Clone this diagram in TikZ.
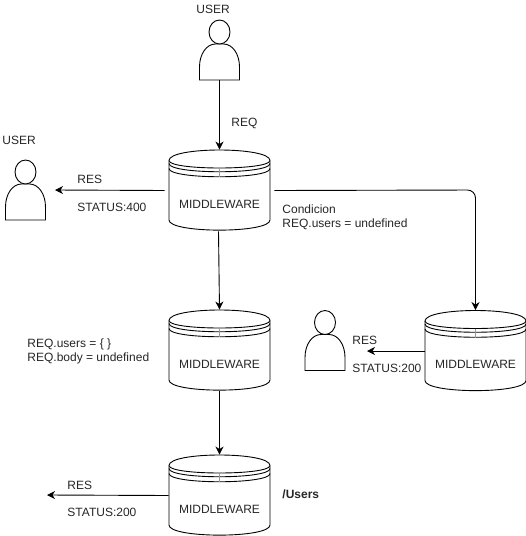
\documentclass[tikz,border=0pt]{standalone}
\usepackage{fontspec}
\setmainfont{Liberation Sans}
\usetikzlibrary{arrows.meta}

\tikzset{
    >={Stealth[length=8pt,width=8pt,inset=2.5pt]},
    every path/.style={line width=0.9pt},
    txt/.style={anchor=west, inner sep=0pt, align=left, font=\fontsize{12}{14}\selectfont, text=black!85},
    pics/datastore/.style={code={
        \node[minimum width=101pt, minimum height=81pt, inner sep=0pt] (-box) at (0,0) {};
        \draw (-50.5,-30) .. controls (-50.5,-44) and (50.5,-44) .. (50.5,-30)
            -- (50.5,29.5) .. controls (50.5,43) and (-50.5,43) .. (-50.5,29.5) -- cycle;
        \draw (-50.5,-30) .. controls (-50.5,-20) and (50.5,-20) .. (50.5,-30);
        \draw (-50.5,-27) .. controls (-50.5,-16) and (50.5,-16) .. (50.5,-27);
        \draw (-50.5,-22) .. controls (-50.5,-11) and (50.5,-11) .. (50.5,-22);
        \draw[black!40, line width=0.6pt] (0,-22.5) -- (0,-13.5);
        \node[txt, anchor=center] (-text) at (0,13.5) {MIDDLEWARE};
    }},
    pics/person/.style={code={
        \node[minimum width=40pt, minimum height=60pt, inner sep=0pt] (-box) at (0,0) {};
        \draw (-20,30) -- (-20,17) .. controls (-20,4) and (-13,-6) .. (-4,-6)
            -- (4,-6) .. controls (13,-6) and (20,4) .. (20,17) -- (20,30) -- cycle;
        \draw[fill=white] (0,-18) ellipse (10.5 and 12);
    }},
}

\begin{document}
\begin{tikzpicture}[x=1pt, y=-1pt]
    \useasboundingbox (0,0) rectangle (526,536);

    % people
    \foreach \name/\x/\y in {userA/219.5/50, userB/25.5/190, userC/325/340.5} {
        \pic (\name) at (\x,\y) {person};
    }

    % stores
    \foreach \name/\x/\y in {mwA/219.5/190.5, mwB/219.5/350.5, mwC/219.5/495.5, mwD/475.5/351} {
        \pic (\name) at (\x,\y) {datastore};
    }

    % labels
    \node[txt] (userAlabel) at (196,9.5) {USER};
    \node[txt] (userBlabel) at (2,140) {USER};
    \node[txt] (req) at (231,123) {REQ};
    \node[txt] (resB) at (77,179) {RES};
    \node[txt] (statusB) at (77,207) {STATUS:400};
    \node[txt] (cond) at (282,217) {Condicion\\REQ.users = undefined};
    \node[txt] (reqB) at (27,351.5) {REQ.users = \{ \}\\REQ.body = undefined};
    \node[txt] (resC) at (352,340) {RES};
    \node[txt] (statusC) at (352,368) {STATUS:200};
    \node[txt] (resD) at (67,485) {RES};
    \node[txt] (statusD) at (67,512) {STATUS:200};
    \node[txt, font=\fontsize{12}{14}\selectfont\bfseries] (users) at (282,494) {/Users};

    \coordinate (leftB) at (55,190);
    \coordinate (leftC) at (367,351);
    \coordinate (leftD) at (47,495);
    \coordinate (corner) at (475.5,190);

    \draw[->] (userA-box.south) -- (mwA-box.north);
    \draw[->] ([xshift=-4pt]mwA-box.west) -- (leftB);
    \draw[->] ([xshift=-1pt]mwA-box.south) -- (mwB-box.north);
    \draw[->] (mwB-box.south) -- (mwC-box.north);
    \draw[->] (mwC-box.west) -- (leftD);
    \draw[->, rounded corners=8pt] ([xshift=4pt]mwA-box.east) -- (corner) -- (mwD-box.north);
    \draw[->] (mwD-box.west) -- (leftC);
\end{tikzpicture}
\end{document}
